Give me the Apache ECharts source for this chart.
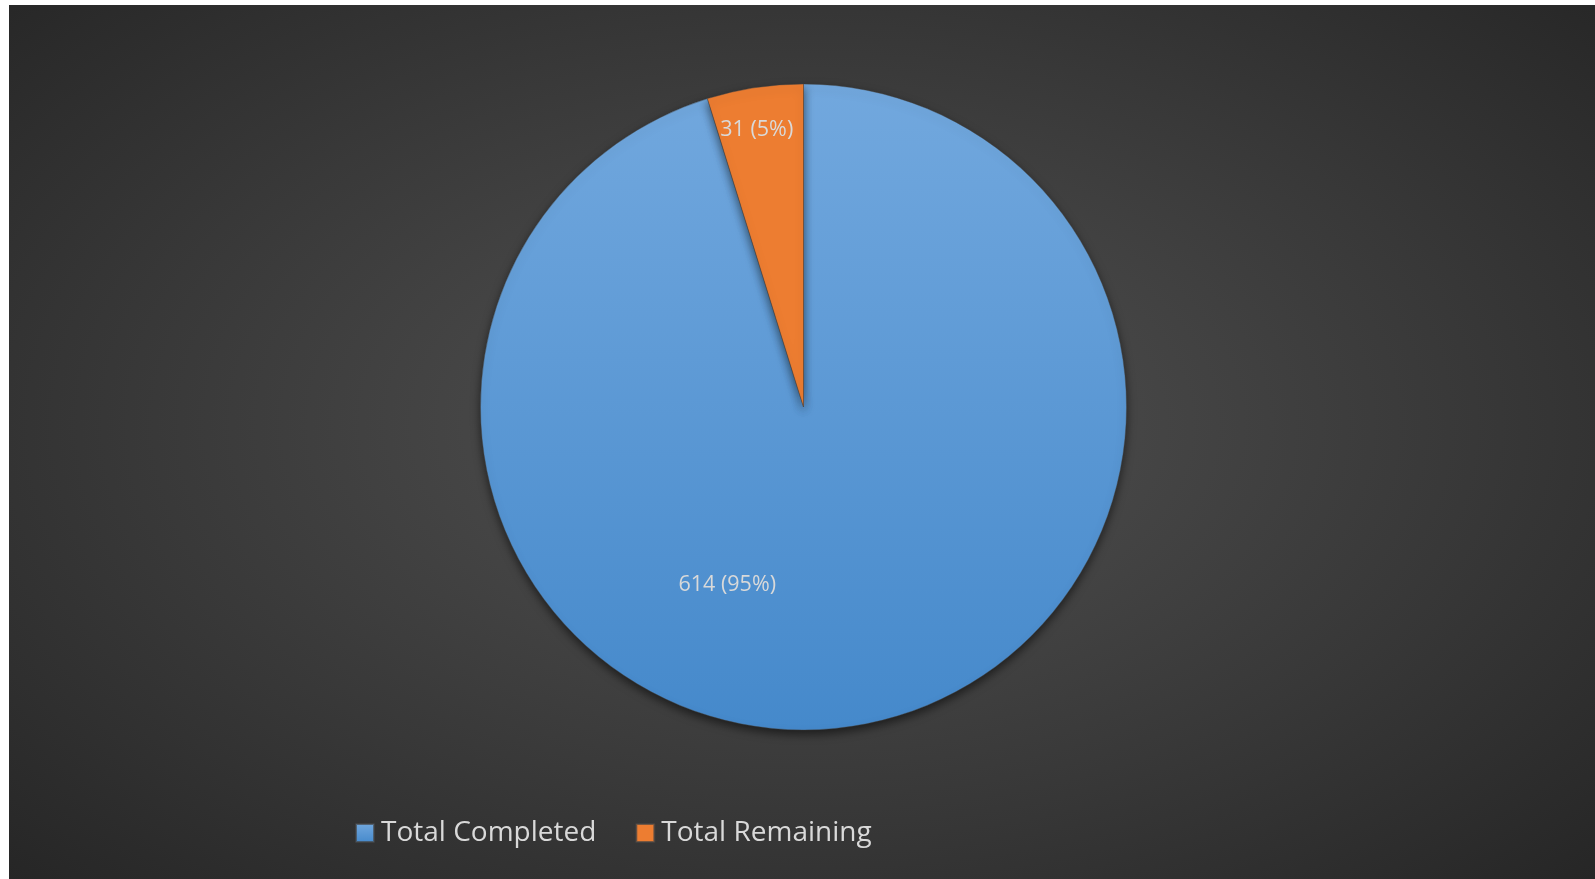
<!DOCTYPE html>
<html>
<head>
<meta charset="utf-8">
<script src="https://cdn.jsdelivr.net/npm/echarts@6/dist/echarts.min.js"></script>
<style>
  html, body { margin: 0; padding: 0; background: #ffffff; width: 1595px; height: 879px; overflow: hidden; }
  #chart {
    position: absolute; left: 9px; top: 5px; width: 1586px; height: 874px;
    background: radial-gradient(ellipse at 50% 48%, #4e4e4e 0%, #454545 30%, #383838 60%, #262626 100%);
  }
</style>
</head>
<body>
<div id="chart"></div>
<script>
const categories = ['Total Completed', 'Total Remaining'];
const values = [614, 31];
const percentLabels = ['95%', '5%'];

const chart = echarts.init(document.getElementById('chart'), null, { renderer: 'canvas' });

const blueFill = new echarts.graphic.LinearGradient(0, 0, 0, 1, [
  { offset: 0, color: '#72a8de' },
  { offset: 1, color: '#4589cb' }
]);
const orangeFill = '#ed7d31';
const fills = [blueFill, orangeFill];
const labelShift = [[-101, 15], [-22, -114]];

chart.setOption({
  animation: false,
  legend: {
    left: 341,
    top: 809,
    itemWidth: 18,
    itemHeight: 18,
    itemGap: 39,
    icon: 'rect',
    textStyle: { color: '#d9d9d9', fontSize: 28, fontFamily: 'Open Sans', padding: [0, 0, 0, 2] },
    data: categories
  },
  series: [{
    type: 'pie',
    center: [794.5, 402],
    radius: [0, 323],
    startAngle: 90,
    clockwise: true,
    silent: true,
    itemStyle: {
      borderColor: 'rgba(70,70,70,0.7)',
      borderWidth: 0.6,
      shadowBlur: 10,
      shadowOffsetY: 4,
      shadowColor: 'rgba(0,0,0,0.55)'
    },
    label: {
      show: true,
      position: 'inside',
      color: '#d9d9d9',
      fontSize: 21.5,
      fontFamily: 'Open Sans',
      formatter: function (p) { return p.value + ' (' + percentLabels[p.dataIndex] + ')'; }
    },
    labelLine: { show: false },
    labelLayout: function (params) {
      const s = labelShift[params.dataIndex];
      return { dx: s[0], dy: s[1] };
    },
    data: categories.map(function (name, i) {
      return { name: name, value: values[i], itemStyle: { color: fills[i] } };
    })
  }]
});
</script>
</body>
</html>
